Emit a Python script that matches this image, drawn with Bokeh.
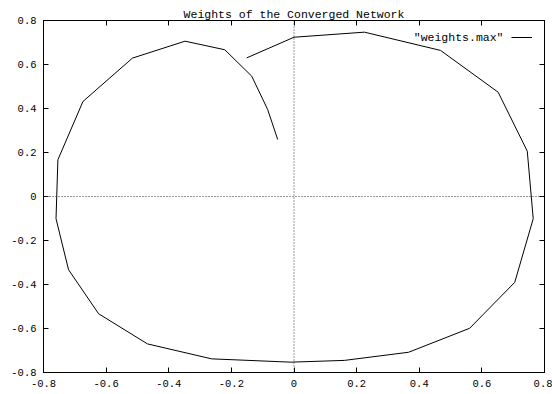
from bokeh.plotting import figure
from bokeh.models import (Range1d, FixedTicker, LinearAxis, Span, Label,
                          Legend, LegendItem)
from bokeh.embed import file_html
from bokeh.resources import INLINE

# Weight vectors of the converged network, in ring order
weights_x = [-0.151, 0.000, 0.225, 0.468, 0.652, 0.745, 0.764, 0.705,
             0.561, 0.366, 0.161, -0.010, -0.263, -0.468, -0.624, -0.720,
             -0.760, -0.754, -0.674, -0.516, -0.348, -0.221, -0.135,
             -0.084, -0.052]
weights_y = [0.630, 0.724, 0.747, 0.664, 0.474, 0.206, -0.101, -0.390,
             -0.599, -0.708, -0.745, -0.753, -0.738, -0.670, -0.533,
             -0.333, -0.101, 0.167, 0.432, 0.629, 0.706, 0.667, 0.547,
             0.395, 0.259]

tick_values = [-0.8, -0.6, -0.4, -0.2, 0.0, 0.2, 0.4, 0.6, 0.8]
tick_labels = ["-0.8", "-0.6", "-0.4", "-0.2", "0", "0.2", "0.4", "0.6", "0.8"]

FONT = "Liberation Mono"
TICK_SIZE = "10.5px"
TEXT_SIZE = "11.5px"

p = figure(width=552, height=394, output_backend="svg", toolbar_location=None,
           x_range=Range1d(-0.8, 0.8), y_range=Range1d(-0.8, 0.8),
           x_axis_location=None, y_axis_location=None,
           min_border_left=43, min_border_right=8,
           min_border_top=20, min_border_bottom=22,
           background_fill_color="white", border_fill_color="white")
p.grid.visible = False
p.outline_line_color = "black"
p.outline_line_width = 1

p.title.text = "Weights of the Converged Network"
p.title.align = "center"
p.title.text_font = FONT
p.title.text_font_size = TEXT_SIZE
p.title.text_font_style = "normal"
p.title.text_color = "black"
p.title.standoff = 0
p.title.offset = 0

ticker = FixedTicker(ticks=tick_values)
overrides = {v: s for v, s in zip(tick_values, tick_labels)}
blank = {v: "" for v in tick_values}


def make_axis(labels):
    ax = LinearAxis(ticker=ticker)
    ax.major_tick_in = 5
    ax.major_tick_out = 0
    ax.minor_tick_line_color = None
    ax.axis_line_color = "black"
    ax.major_tick_line_color = "black"
    if labels:
        ax.major_label_overrides = overrides
        ax.major_label_text_font = FONT
        ax.major_label_text_font_size = TICK_SIZE
        ax.major_label_text_color = "black"
        ax.major_label_standoff = 7
    else:
        ax.major_label_overrides = blank
        ax.major_label_text_font_size = "0px"
        ax.major_label_standoff = 0
    return ax


p.add_layout(make_axis(True), "below")
p.add_layout(make_axis(True), "left")
p.add_layout(make_axis(False), "above")
p.add_layout(make_axis(False), "right")

# dotted zero axes
for dim in ("width", "height"):
    p.add_layout(Span(location=0, dimension=dim, line_color="#333333",
                      line_width=1, line_dash="1 2"))

r = p.line(weights_x, weights_y, line_color="black", line_width=1)

# key: series name followed by a short line sample
p.add_layout(Label(x=0.669, y=0.724, text='"weights.max"', text_font=FONT,
                   text_font_size=TEXT_SIZE, text_align="right",
                   text_baseline="middle", text_color="black"))
legend = Legend(items=[LegendItem(label=" ", renderers=[r])],
                location=(468, 330), glyph_width=21, glyph_height=10,
                label_width=0, label_standoff=0, padding=0, margin=0,
                border_line_color=None, background_fill_alpha=0,
                label_text_font_size="1px")
p.add_layout(legend, "center")

open("out.html", "w").write(file_html(p, INLINE))
